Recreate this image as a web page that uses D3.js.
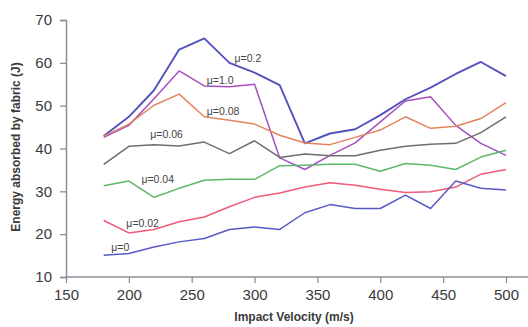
<!DOCTYPE html>
<html>
<head>
<meta charset="utf-8">
<script src="https://cdn.jsdelivr.net/npm/d3@7"></script>
<style>
  html, body { margin: 0; padding: 0; background: #fff; }
  svg { display: block; font-family: "Liberation Sans", Arial, sans-serif; }
</style>
</head>
<body>
<svg id="chart" width="528" height="327"></svg>
<script>
// Impact velocity (m/s) at which each simulation was run
const velocities = [180, 200, 220, 240, 260, 280, 300, 320, 340, 360, 380, 400, 420, 440, 460, 480, 500];

// Energy absorbed by fabric (J), one series per friction coefficient
const mu02  = [42.9, 47.4, 53.6, 63.1, 65.7, 60.0, 57.7, 54.8, 41.2, 43.5, 44.5, 47.8, 51.5, 54.2, 57.4, 60.2, 56.9];
const mu10  = [42.6, 45.4, 51.6, 58.1, 54.6, 54.4, 55.0, 37.8, 35.1, 38.4, 41.3, 46.2, 51.1, 52.1, 45.4, 41.2, 38.4];
const mu008 = [42.9, 45.7, 50.1, 52.7, 47.4, 46.6, 45.7, 43.1, 41.3, 40.9, 42.6, 44.3, 47.4, 44.7, 45.2, 47.0, 50.7];
const mu006 = [36.3, 40.5, 40.9, 40.6, 41.5, 38.8, 41.8, 37.9, 38.7, 38.3, 38.3, 39.6, 40.5, 41.0, 41.2, 43.7, 47.4];
const mu004 = [31.3, 32.4, 28.6, 30.7, 32.6, 32.8, 32.8, 36.0, 36.1, 36.3, 36.3, 34.7, 36.5, 36.1, 35.1, 38.0, 39.6];
const mu002 = [23.2, 20.3, 21.1, 22.9, 24.0, 26.4, 28.6, 29.6, 31.0, 32.0, 31.4, 30.5, 29.7, 29.9, 31.0, 34.0, 35.1];
const mu0   = [15.1, 15.5, 17.0, 18.2, 19.0, 21.1, 21.7, 21.1, 25.0, 26.9, 26.0, 26.0, 29.1, 26.0, 32.4, 30.7, 30.3];

const seriesNames = ["μ=0.2", "μ=1.0", "μ=0.08", "μ=0.06", "μ=0.04", "μ=0.02", "μ=0"];
const seriesValues = [mu02, mu10, mu008, mu006, mu004, mu002, mu0];
const seriesColors = ["#5252bd", "#a64fbf", "#e3845e", "#6e6e6e", "#5cb86c", "#ef5b78", "#5959c6"];

// Where each μ label sits, in axis units (velocity, energy)
const labelVelocity = [284, 262, 262, 217, 210, 198, 186];
const labelEnergy   = [60.2, 55.1, 47.8, 42.4, 31.9, 21.7, 16.1];

const xTicks = [150, 200, 250, 300, 350, 400, 450, 500];
const yTicks = [10, 20, 30, 40, 50, 60, 70];

const svg = d3.select("#chart");
const W = 528;

const x = d3.scaleLinear().domain([150, 500]).range([66, 506]);
const y = d3.scaleLinear().domain([10, 70]).range([277, 20]);

const axisColor = "#8a9098";
const textColor = "#3a3a3a";

// y axis
const gy = svg.append("g")
  .attr("transform", `translate(${x(150)},0)`)
  .call(d3.axisLeft(y).tickValues(yTicks).tickSize(6).tickPadding(8).tickFormat(d3.format("d")));
gy.select(".domain").attr("stroke", axisColor).attr("stroke-width", 1.5);
gy.selectAll(".tick line").attr("stroke", axisColor).attr("stroke-width", 1.3);
gy.selectAll("text").attr("font-size", 15).attr("fill", textColor)
  .attr("font-family", "Liberation Sans, Arial, sans-serif");

// x axis, whose base line runs on past the last tick
const gx = svg.append("g")
  .attr("transform", `translate(0,${y(10)})`)
  .call(d3.axisBottom(x).tickValues(xTicks).tickSize(6).tickPadding(6).tickFormat(d3.format("d")));
gx.select(".domain").remove();
gx.append("line")
  .attr("x1", x(150)).attr("x2", W)
  .attr("stroke", axisColor).attr("stroke-width", 1.5);
gx.selectAll(".tick line").attr("stroke", axisColor).attr("stroke-width", 1.3);
gx.selectAll("text").attr("font-size", 15).attr("fill", textColor)
  .attr("font-family", "Liberation Sans, Arial, sans-serif");

// axis titles
svg.append("text")
  .attr("x", 294).attr("y", 321)
  .attr("text-anchor", "middle")
  .attr("font-size", 12).attr("font-weight", "bold").attr("fill", textColor)
  .text("Impact Velocity (m/s)");

svg.append("text")
  .attr("transform", `translate(20,147) rotate(-90)`)
  .attr("text-anchor", "middle")
  .attr("font-size", 12).attr("font-weight", "bold").attr("fill", textColor)
  .text("Energy absorbed by fabric (J)");

// series lines
const line = d3.line()
  .x((d, i) => x(velocities[i]))
  .y(d => y(d));

svg.append("g").selectAll("path")
  .data(seriesValues)
  .join("path")
  .attr("d", line)
  .attr("fill", "none")
  .attr("stroke", (d, i) => seriesColors[i])
  .attr("stroke-width", (d, i) => i === 0 ? 1.9 : 1.5)
  .attr("stroke-linejoin", "round");

// μ labels
svg.append("g").selectAll("text")
  .data(seriesNames)
  .join("text")
  .attr("x", (d, i) => x(labelVelocity[i]))
  .attr("y", (d, i) => y(labelEnergy[i]))
  .attr("font-size", 10.5)
  .attr("fill", "#444")
  .text(d => d);
</script>
</body>
</html>
